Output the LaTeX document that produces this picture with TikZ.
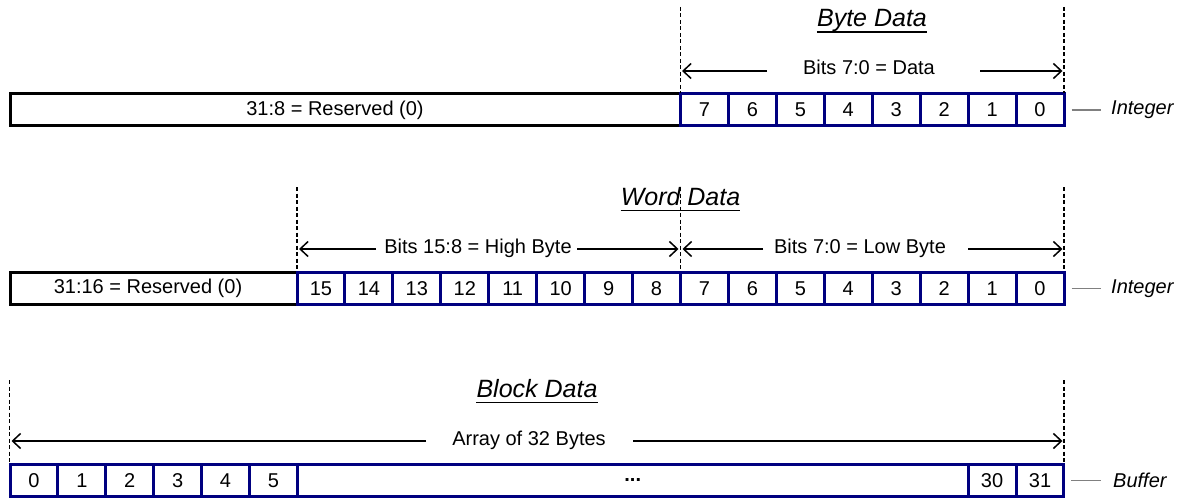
\documentclass[tikz,border=0pt]{standalone}
\usepackage{fontspec}
\setmainfont{Liberation Sans}
\usetikzlibrary{arrows.meta}
\definecolor{navy}{HTML}{000080}
\definecolor{lblgray}{HTML}{808080}
\begin{document}
\begin{tikzpicture}[x=1pt,y=-1pt,
  resbox/.style={draw=black,line width=3pt,minimum height=32pt,inner sep=0pt},
  cellbox/.style={draw=navy,line width=3pt,minimum height=32pt,minimum width=47.94pt,inner sep=0pt,font=\fontsize{20}{24}\selectfont},
  txt/.style={font=\fontsize{20}{24}\selectfont,inner sep=0pt},
  ttl/.style={font=\fontsize{25}{30}\selectfont\itshape,inner sep=0pt,anchor=base},
  uline/.style={line width=1.4pt},
  dashline/.style={line width=1.3pt,dash pattern=on 4pt off 2.5pt},
  spanarrow/.style={line width=1.5pt,-{Straight Barb[length=8pt,width=15pt,line width=1.5pt]}},
  tagline/.style={draw=lblgray,line width=1.2pt},
  tagtxt/.style={font=\fontsize{20}{24}\selectfont\itshape,anchor=west,inner sep=0pt},
]
\useasboundingbox (0,0) rectangle (1183,500);

% ---------------- Row 1: Byte Data ----------------
\node[resbox,minimum width=670.5pt] (r1) at (345.25,110) {};
\node[txt] (r1t) at (335,110) {31:8 = Reserved (0)};
\foreach \i in {0,...,7}{
  \pgfmathtruncatemacro{\lab}{7-\i}
  \node[cellbox] (a\i) at ({680.5+47.9375*(\i+0.5)},110) {\lab};
}
\coordinate (d1a) at (680.5,7);  \coordinate (d1ab) at (680.5,93);
\coordinate (d1b) at (1064,7);   \coordinate (d1bb) at (1064,93);
\draw[dashline] (d1a) -- (d1ab);
\draw[dashline] (d1b) -- (d1bb);
\node[ttl] (t1) at (872,27) {Byte Data};
\draw[uline] ([yshift=-5pt]t1.base west) -- ([yshift=-5pt]t1.base east);
\node[txt,anchor=base] (s1) at (869,75) {Bits 7:0 = Data};
\coordinate (s1l) at (767,71); \coordinate (s1lt) at (682,71);
\coordinate (s1r) at (980,71); \coordinate (s1rt) at (1062.5,71);
\draw[spanarrow] (s1l) -- (s1lt);
\draw[spanarrow] (s1r) -- (s1rt);
\node[tagtxt] (g1) at (1111,110) {Integer};
\draw[tagline] ([xshift=6pt]a7.east) -- ([xshift=-10pt]g1.west);

% ---------------- Row 2: Word Data ----------------
\node[resbox,minimum width=287pt] (r2) at (153.5,288.5) {};
\node[txt] (r2t) at (148,288.5) {31:16 = Reserved (0)};
\foreach \i in {0,...,15}{
  \pgfmathtruncatemacro{\lab}{15-\i}
  \node[cellbox] (b\i) at ({297+47.9375*(\i+0.5)},288.5) {\lab};
}
\coordinate (d2a) at (297,187);   \coordinate (d2ab) at (297,271);
\coordinate (d2b) at (680.5,187); \coordinate (d2bb) at (680.5,271);
\coordinate (d2c) at (1064,187);  \coordinate (d2cb) at (1064,271);
\draw[dashline] (d2a) -- (d2ab);
\draw[dashline] (d2b) -- (d2bb);
\draw[dashline] (d2c) -- (d2cb);
\node[ttl] (t2) at (680.5,205.7) {Word Data};
\draw[uline] ([yshift=-5pt]t2.base west) -- ([yshift=-5pt]t2.base east);
\node[txt,anchor=base] (s2) at (478,253) {Bits 15:8 = High Byte};
\coordinate (s2l) at (376,249); \coordinate (s2lt) at (299,249);
\coordinate (s2r) at (577,249); \coordinate (s2rt) at (678.5,249);
\draw[spanarrow] (s2l) -- (s2lt);
\draw[spanarrow] (s2r) -- (s2rt);
\node[txt,anchor=base] (s3) at (860,253) {Bits 7:0 = Low Byte};
\coordinate (s3l) at (763,249); \coordinate (s3lt) at (682.5,249);
\coordinate (s3r) at (968,249); \coordinate (s3rt) at (1062.5,249);
\draw[spanarrow] (s3l) -- (s3lt);
\draw[spanarrow] (s3r) -- (s3rt);
\node[tagtxt] (g2) at (1111,288.5) {Integer};
\draw[tagline] ([xshift=6pt]b15.east) -- ([xshift=-10pt]g2.west);

% ---------------- Row 3: Block Data ----------------
\foreach \i in {0,...,5}{
  \node[cellbox,minimum width=47.9pt] (c\i) at ({10+47.9*(\i+0.5)},480.5) {\i};
}
\node[cellbox,minimum width=670.7pt] (cdots) at (632.75,480.5) {\textbf{...}};
\node[cellbox,minimum width=47.95pt] (c30) at (992.05,480.5) {30};
\node[cellbox,minimum width=47.95pt] (c31) at (1040.0,480.5) {31};
\coordinate (d3a) at (9.5,380);  \coordinate (d3ab) at (9.5,463);
\coordinate (d3b) at (1064,380); \coordinate (d3bb) at (1064,463);
\draw[dashline] (d3a) -- (d3ab);
\draw[dashline] (d3b) -- (d3bb);
\node[ttl] (t3) at (537,397.7) {Block Data};
\draw[uline] ([yshift=-5pt]t3.base west) -- ([yshift=-5pt]t3.base east);
\node[txt,anchor=base] (s4) at (529,445) {Array of 32 Bytes};
\coordinate (s4l) at (426,441); \coordinate (s4lt) at (11.5,441);
\coordinate (s4r) at (633,441); \coordinate (s4rt) at (1062.5,441);
\draw[spanarrow] (s4l) -- (s4lt);
\draw[spanarrow] (s4r) -- (s4rt);
\node[tagtxt] (g3) at (1113,480.5) {Buffer};
\draw[tagline] ([xshift=6pt]c31.east) -- ([xshift=-12pt]g3.west);
\end{tikzpicture}
\end{document}
